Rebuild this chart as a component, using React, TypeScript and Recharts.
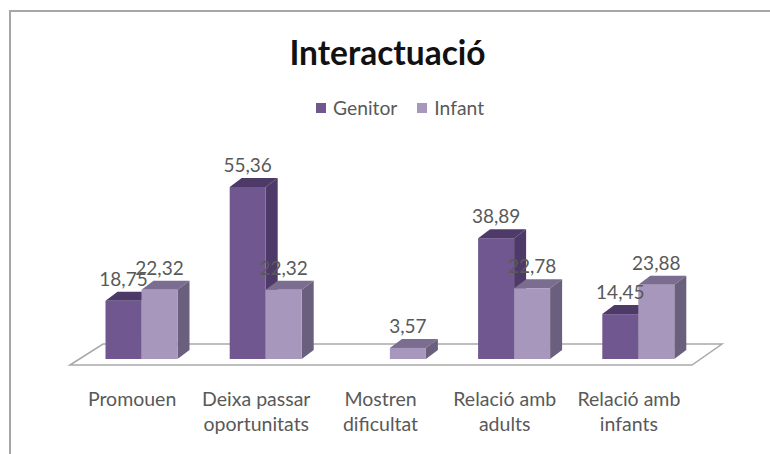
import { BarChart, Bar, XAxis, YAxis, Customized, LabelList, usePlotArea } from "recharts";

const categories = ["Promouen", "Deixa passar oportunitats", "Mostren dificultat", "Relació amb adults", "Relació amb infants"];
const tickLines = [["Promouen"], ["Deixa passar", "oportunitats"], ["Mostren", "dificultat"], ["Relació amb", "adults"], ["Relació amb", "infants"]];
const genitor = [18.75, 55.36, null, 38.89, 14.45];
const infant = [22.32, 22.32, 3.57, 22.78, 23.88];

const rows = categories.map((name, i) => ({ name, genitor: genitor[i], infant: infant[i] }));

const FONT = "Lato, sans-serif";
const TEXT = "#595959";
const DX = 12;
const DY = 9;

function Bar3D({ x, y, width, height, fill, top, side }: any) {
  if (!height) return null;
  return (
    <g>
      <polygon points={`${x},${y} ${x + DX},${y - DY} ${x + width + DX},${y - DY} ${x + width},${y}`} fill={top} />
      <polygon points={`${x + width},${y} ${x + width + DX},${y - DY} ${x + width + DX},${y + height - DY} ${x + width},${y + height}`} fill={side} />
      <rect x={x} y={y} width={width} height={height} fill={fill} />
    </g>
  );
}

// parallelogram floor under the bars
function Floor() {
  const plot = usePlotArea();
  if (!plot) return null;
  const base = plot.y + plot.height;
  const left = plot.x;
  const right = plot.x + plot.width;
  return (
    <polygon
      points={`${left - 9},${base + 6} ${left + 24},${base - 15} ${right + 22},${base - 15} ${right - 8},${base + 6}`}
      fill="#fff"
      stroke="#a9a9a9"
      strokeWidth={1.5}
    />
  );
}

function CategoryTick({ x, y, payload }: any) {
  const lines = tickLines[payload.index];
  return (
    <text x={x - 9} y={y} textAnchor="middle" fontFamily={FONT} fontSize={19.5} fill={TEXT}>
      {lines.map((line, i) => (
        <tspan key={line} x={x - 9} dy={i === 0 ? 0 : 25}>
          {line}
        </tspan>
      ))}
    </text>
  );
}

const fmt = (v: any) => (v == null ? "" : Number(v).toFixed(2).replace(".", ","));

export default function App() {
  return (
    <div style={{ position: "absolute", left: 0, top: 0, width: 770, height: 454, background: "#fff", overflow: "hidden" }}>
      <div style={{ position: "absolute", left: 9, top: 10, width: 780, height: 460, border: "2px solid #a6a6a6" }} />
      <div style={{ position: "absolute", left: 0, width: 775, top: 32, textAlign: "center", fontFamily: FONT, fontWeight: 700, fontSize: 33.5, color: "#111" }}>
        Interactuació
      </div>
      <div style={{ position: "absolute", left: 316, top: 96, display: "flex", alignItems: "center", fontFamily: FONT, fontSize: 19.3, color: TEXT }}>
        <span style={{ width: 10, height: 10, background: "#71578f", marginRight: 7 }} />
        <span style={{ marginRight: 20 }}>Genitor</span>
        <span style={{ width: 10, height: 10, background: "#a797bd", marginRight: 7 }} />
        <span>Infant</span>
      </div>
      <BarChart
        width={770}
        height={454}
        data={rows}
        barCategoryGap={26.5}
        barGap={0}
        margin={{ top: 100, right: 70, bottom: 0, left: 79 }}
        style={{ position: "absolute", left: 0, top: 0 }}
      >
        <Customized component={<Floor />} />
        <XAxis dataKey="name" axisLine={false} tickLine={false} tick={<CategoryTick />} interval={0} height={95} tickMargin={41} />
        <YAxis hide domain={[0, 83.36]} />
        <Bar dataKey="genitor" isAnimationActive={false} fill="#71578f" shape={<Bar3D top="#4e3a69" side="#4e3a69" />}>
          <LabelList dataKey="genitor" position="top" offset={15} formatter={fmt} fontFamily={FONT} fontSize={19} fill={TEXT} />
        </Bar>
        <Bar dataKey="infant" isAnimationActive={false} fill="#a797bd" shape={<Bar3D top="#7b6d90" side="#6a5f7c" />}>
          <LabelList dataKey="infant" position="top" offset={15} formatter={fmt} fontFamily={FONT} fontSize={19} fill={TEXT} />
        </Bar>
      </BarChart>
    </div>
  );
}
